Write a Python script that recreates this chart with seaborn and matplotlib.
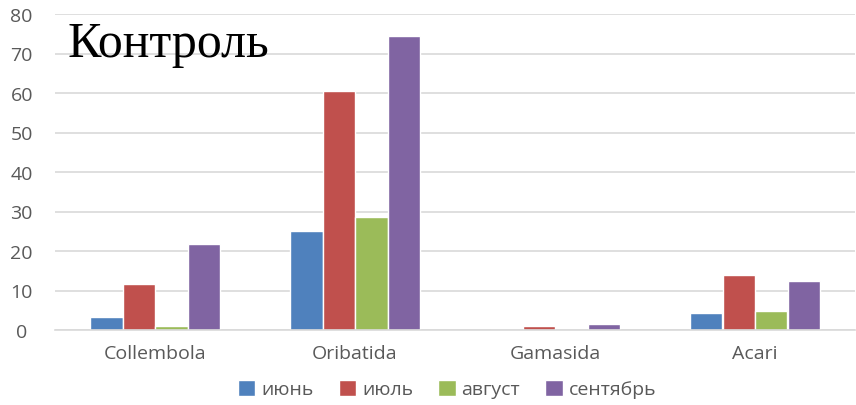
import matplotlib
matplotlib.use("Agg")
import matplotlib.pyplot as plt
import seaborn as sns
import pandas as pd

categories = ["Collembola", "Oribatida", "Gamasida", "Acari"]
months = ["июнь", "июль", "август", "сентябрь"]
june = [3.2, 25.1, 0.0, 4.3]
july = [11.6, 60.4, 0.9, 13.9]
august = [0.9, 28.5, 0.0, 4.7]
september = [21.8, 74.4, 1.5, 12.4]
y_ticks = [0, 10, 20, 30, 40, 50, 60, 70, 80]
colors = ["#4F81BD", "#C0504D", "#9BBB59", "#8064A2"]

rows = []
for month, vals in zip(months, [june, july, august, september]):
    for cat, v in zip(categories, vals):
        rows.append({"group": cat, "month": month, "value": v})
df = pd.DataFrame(rows)

sns.set_style("white")
plt.rcParams["font.family"] = ["Open Sans", "DejaVu Sans"]

fig = plt.figure(figsize=(8.56, 4.06), dpi=100)
ax = fig.add_axes([55 / 856, 75 / 406, 800 / 856, 316 / 406])

sns.barplot(data=df, x="group", y="value", hue="month", order=categories,
            hue_order=months, palette=colors, width=0.65, gap=0,
            saturation=1, ax=ax, legend=True)

ax.set_ylim(0, 80)
ax.set_xlim(-0.5, 3.5)
ax.set_yticks(y_ticks)
ax.yaxis.grid(True, color="#d9d9d9", linewidth=1.2)
ax.set_axisbelow(True)
for s in ["top", "right", "left"]:
    ax.spines[s].set_visible(False)
ax.spines["bottom"].set_color("#d9d9d9")
ax.spines["bottom"].set_linewidth(1.2)
ax.tick_params(axis="both", length=0, labelsize=14, colors="#595959")
ax.tick_params(axis="y", pad=24)
ax.tick_params(axis="x", pad=10)
for lbl in ax.get_yticklabels():
    lbl.set_horizontalalignment("center")
ax.set_xlabel("")
ax.set_ylabel("")

ax.text(0.016, 0.98, "Контроль", transform=ax.transAxes, ha="left", va="top",
        fontsize=36, family=["Liberation Serif", "DejaVu Serif"], color="black")

handles, labels = ax.get_legend_handles_labels()
ax.legend_.remove()
fig.legend(handles, labels, loc="center", bbox_to_anchor=(447 / 856, 16 / 406),
           ncol=4, frameon=False, fontsize=14, handlelength=0.9,
           handleheight=0.9, handletextpad=0.3, columnspacing=1.3,
           labelcolor="#595959")

fig.savefig("out.png", dpi=100)
